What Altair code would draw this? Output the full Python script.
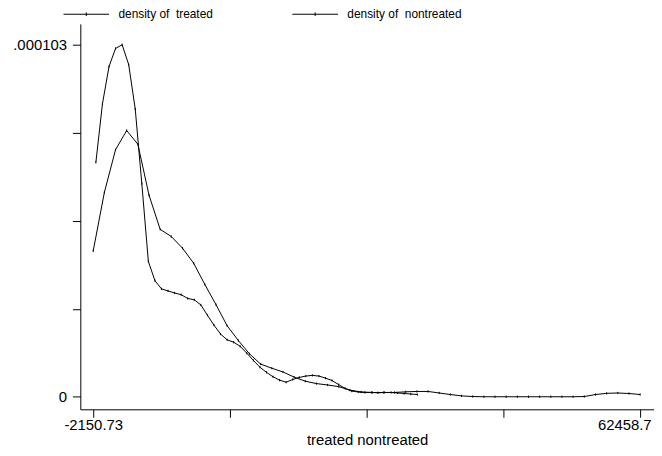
import altair as alt
import pandas as pd

# ---- data (density values in units of 1e-5) ----
treated_x = [-1835, -1060, -285, 490, 1265, 2040, 2815, 3590, 4365, 5140,
             5915, 6690, 7465, 8240, 9015, 9790, 10565, 11340, 12115, 12890,
             13665, 14440, 15215, 15990, 16765, 17540, 18315, 19090, 19865, 20640,
             21415, 22190, 22965, 23740, 24515, 25290, 26065, 26840, 27615, 28390,
             29165, 29940, 30715, 31490, 32265, 33040, 33815, 34590, 35365, 36140]
treated_d = [6.86, 8.57, 9.66, 10.19, 10.30, 9.72, 8.42, 6.24, 3.96, 3.40,
             3.16, 3.10, 3.04, 2.99, 2.88, 2.84, 2.69, 2.39, 2.10, 1.84,
             1.67, 1.60, 1.48, 1.28, 1.07, 0.87, 0.72, 0.59, 0.49, 0.43,
             0.51, 0.57, 0.61, 0.63, 0.61, 0.55, 0.48, 0.36, 0.25, 0.17,
             0.145, 0.13, 0.13, 0.12, 0.13, 0.13, 0.115, 0.10, 0.085, 0.07]

nontreated_x = [-2150.73, -832, 487, 1805, 3124, 4442, 5761, 7079, 8398, 9716,
                11035, 12353, 13672, 14991, 16309, 17628, 18946, 20265, 21583, 22902,
                24220, 25539, 26857, 28176, 29495, 30813, 32132, 33450, 34769, 36087,
                37406, 38724, 40043, 41361, 42680, 43998, 45317, 46636, 47954, 49273,
                50591, 51910, 53228, 54547, 55865, 57184, 58502, 59821, 61140, 62458.7]
nontreated_d = [4.27, 5.98, 7.23, 7.79, 7.39, 5.90, 4.90, 4.69, 4.35, 3.91,
                3.29, 2.70, 2.08, 1.65, 1.26, 0.96, 0.84, 0.73, 0.58, 0.46,
                0.39, 0.35, 0.30, 0.20, 0.145, 0.13, 0.13, 0.13, 0.15, 0.16,
                0.16, 0.115, 0.07, 0.03, 0.012, 0.005, 0.005, 0.005, 0.005, 0.005,
                0.005, 0.005, 0.005, 0.005, 0.012, 0.07, 0.105, 0.115, 0.10, 0.07]

series_names = ["density of\u00a0 treated", "density of\u00a0 nontreated"]

x_ticks = [-2150.73, 14001.63, 30153.99, 46306.34, 62458.7]
y_ticks = [0, 0.00002575, 0.0000515, 0.00007725, 0.000103]
x_title = "treated nontreated"

rows = []
for name, xs, ds in [(series_names[0], treated_x, treated_d),
                     (series_names[1], nontreated_x, nontreated_d)]:
    for i, (xv, dv) in enumerate(zip(xs, ds)):
        rows.append({"x": xv, "density": dv * 1e-5, "series": name, "order": i})
df = pd.DataFrame(rows)

FONT = "Liberation Sans"
AXIS_FS = 15

x_enc = alt.X(
    "x:Q",
    scale=alt.Scale(domain=[-3672.33, 64097.35], nice=False, zero=False),
    axis=alt.Axis(
        values=x_ticks,
        labelExpr="datum.value <= -2150 ? '-2150.73' : (datum.value >= 62458 ? '62458.7' : '')",
        labelOffset={"condition": {"test": "datum.value >= 62458", "value": -16}, "value": 0},
        title=x_title,
        grid=False,
        tickSize=8,
        labelPadding=0,
        titlePadding=1,
        labelFlush=False,
        labelOverlap=False,
    ),
)
y_enc = alt.Y(
    "density:Q",
    scale=alt.Scale(domain=[-3.622e-6, 1.09085e-4], nice=False, zero=False),
    axis=alt.Axis(
        values=y_ticks,
        labelExpr="datum.value == 0 ? '0' : (datum.value >= 0.0001029 ? '.000103' : '')",
        title=None,
        grid=False,
        tickSize=8,
        labelPadding=6,
        labelOverlap=False,
    ),
)

lines = alt.Chart(df).mark_line(strokeWidth=1, interpolate="linear").encode(
    x=x_enc,
    y=y_enc,
    order="order:Q",
    color=alt.Color(
        "series:N",
        scale=alt.Scale(domain=series_names, range=["black", "black"]),
        legend=alt.Legend(
            title=None,
            orient="none",
            direction="horizontal",
            legendX=-17.5,
            legendY=-33.5,
            symbolType="M-1,0L1,0M0,-0.08L0,0.08",
            symbolSize=2116,
            symbolStrokeWidth=1,
            symbolStrokeColor="black",
            labelOffset=9,
            columnPadding=77,
            padding=0,
            labelFont=FONT,
            labelFontSize=12,
            labelColor="black",
        ),
    ),
)

points = alt.Chart(df).mark_point(
    shape="M0,-1L0,1", size=5, filled=False, color="black", strokeWidth=1, opacity=1
).encode(x="x:Q", y="density:Q", detail="series:N")

chart = alt.layer(lines, points).properties(
    width=579,
    height=389,
    autosize=alt.AutoSizeParams(type="none"),
    padding={"left": 73, "top": 14, "right": 0, "bottom": 37},
).configure_view(stroke=None).configure_axis(
    domainColor="black",
    tickColor="black",
    labelColor="black",
    titleColor="black",
    labelFont=FONT,
    titleFont=FONT,
    labelFontSize=AXIS_FS,
    titleFontSize=AXIS_FS,
    titleFontWeight="normal",
    domainWidth=1,
    tickWidth=1,
)

chart.save("out.html", embed_options={"renderer": "svg", "actions": False})
